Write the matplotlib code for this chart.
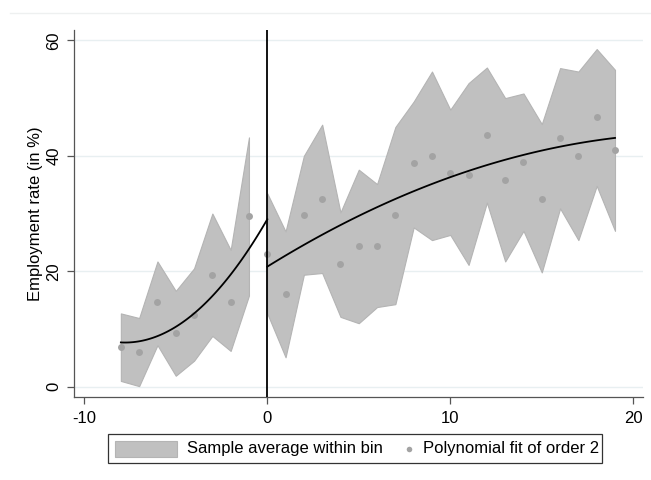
import numpy as np
import matplotlib
matplotlib.use("Agg")
import matplotlib.pyplot as plt
from matplotlib.patches import Rectangle
from matplotlib.lines import Line2D

plt.rcParams['font.family'] = ['Liberation Sans', 'DejaVu Sans']

# ---- data ----
left_x = [-8, -7, -6, -5, -4, -3, -2, -1]
left_mean = [6.9, 6.0, 14.6, 9.3, 12.5, 19.4, 14.7, 29.6]
left_upper = [12.7, 11.9, 21.7, 16.6, 20.5, 30.0, 23.7, 43.2]
left_lower = [1.0, 0.1, 7.2, 1.9, 4.5, 8.8, 6.2, 15.8]

right_x = list(range(0, 20))
right_mean = [23.0, 16.0, 29.8, 32.6, 21.2, 24.3, 24.3, 29.8, 38.8, 40.0,
              37.1, 36.7, 43.6, 35.8, 39.0, 32.6, 43.1, 40.0, 46.7, 41.0]
right_upper = [33.5, 26.9, 40.0, 45.4, 30.2, 37.6, 35.1, 45.0, 49.4, 54.6,
               48.0, 52.6, 55.3, 50.0, 50.8, 45.5, 55.2, 54.6, 58.5, 54.9]
right_lower = [12.7, 5.1, 19.4, 19.7, 12.1, 11.0, 13.8, 14.3, 27.6, 25.4,
               26.3, 21.1, 31.9, 21.7, 27.0, 19.8, 30.9, 25.4, 34.8, 27.0]

# quadratic fit coefficients (highest power first)
left_fit_coef = [0.353, 5.49, 29.0]
left_fit_range = [-8, 0]
right_fit_coef = [-0.0418, 1.968, 20.8]
right_fit_range = [0, 19]

xticks = [-10, 0, 10, 20]
yticks = [0, 20, 40, 60]
ylabel = "Employment rate (in %)"
legend_labels = ["Sample average within bin", "Polynomial fit of order 2"]

# ---- figure ----
W, H = 651, 480
fig = plt.figure(figsize=(W / 100, H / 100), dpi=100)
ax = fig.add_axes([74 / W, 1 - 396.7 / H, (643 - 74) / W, (396.7 - 30) / H])

band_color = '#c0c0c0'
band_edge = '#b4b4b4'
dot_color = '#a3a3a3'

for g in yticks:
    ax.axhline(g, color='#e8eff1', lw=1.0, zorder=0)

ax.fill_between(left_x, left_lower, left_upper, facecolor=band_color,
                edgecolor=band_edge, lw=0.8, zorder=1)
ax.fill_between(right_x, right_lower, right_upper, facecolor=band_color,
                edgecolor=band_edge, lw=0.8, zorder=1)

ax.plot(left_x, left_mean, 'o', color=dot_color, ms=5, mec='none', zorder=2)
ax.plot(right_x, right_mean, 'o', color=dot_color, ms=5, mec='none', zorder=2)

xl = np.linspace(left_fit_range[0], left_fit_range[1], 100)
xr = np.linspace(right_fit_range[0], right_fit_range[1], 100)
ax.plot(xl, np.polyval(left_fit_coef, xl), color='black', lw=1.3, zorder=3)
ax.plot(xr, np.polyval(right_fit_coef, xr), color='black', lw=1.3, zorder=3)

ax.axvline(0, color='black', lw=1.3, zorder=4)

ax.set_xlim(-10.56, 20.53)
ax.set_ylim(-1.73, 61.8)
ax.set_xticks(xticks)
ax.set_yticks(yticks)
ax.set_xticklabels([str(t) for t in xticks], fontsize=12)
ax.set_yticklabels([str(t) for t in yticks], fontsize=12, rotation=90, va='center')
ax.tick_params(axis='both', length=5, width=0.9, color='#555555', labelcolor='black')
ax.tick_params(axis='x', pad=5)
ax.tick_params(axis='y', pad=4)
for s in ['top', 'right']:
    ax.spines[s].set_visible(False)
for s in ['left', 'bottom']:
    ax.spines[s].set_color('#555555')
    ax.spines[s].set_linewidth(0.9)
ax.set_ylabel(ylabel, fontsize=12)
ax.yaxis.set_label_coords((43.5 - 74) / (643 - 74), 0.5)

# faint graph-region line at top
fig.add_artist(Line2D([10 / W, 1.0], [1 - 13 / H, 1 - 13 / H], color='#eef0f0', lw=1.0))

# ---- legend, drawn by hand (pixel positions converted to figure fraction) ----
def fx(px):
    return px / W

def fy(py):
    return 1 - py / H

fig.add_artist(Rectangle((fx(108.3), fy(463.3)), fx(601.7) - fx(108.3), fy(434) - fy(463.3),
                         transform=fig.transFigure, facecolor='white',
                         edgecolor='#333333', lw=0.9))
fig.add_artist(Rectangle((fx(115), fy(457.3)), fx(176.7) - fx(115), fy(440.7) - fy(457.3),
                         transform=fig.transFigure, facecolor=band_color,
                         edgecolor=band_edge, lw=0.8))
fig.add_artist(Line2D([fx(409)], [fy(448.7)], marker='o', ls='none', color=dot_color,
                      ms=4, mec='none', transform=fig.transFigure))
fig.text(fx(187.3), fy(449), legend_labels[0], fontsize=12, va='center', ha='left')
fig.text(fx(423.3), fy(449), legend_labels[1], fontsize=12, va='center', ha='left')

fig.savefig('out.png', dpi=100, facecolor='white')
